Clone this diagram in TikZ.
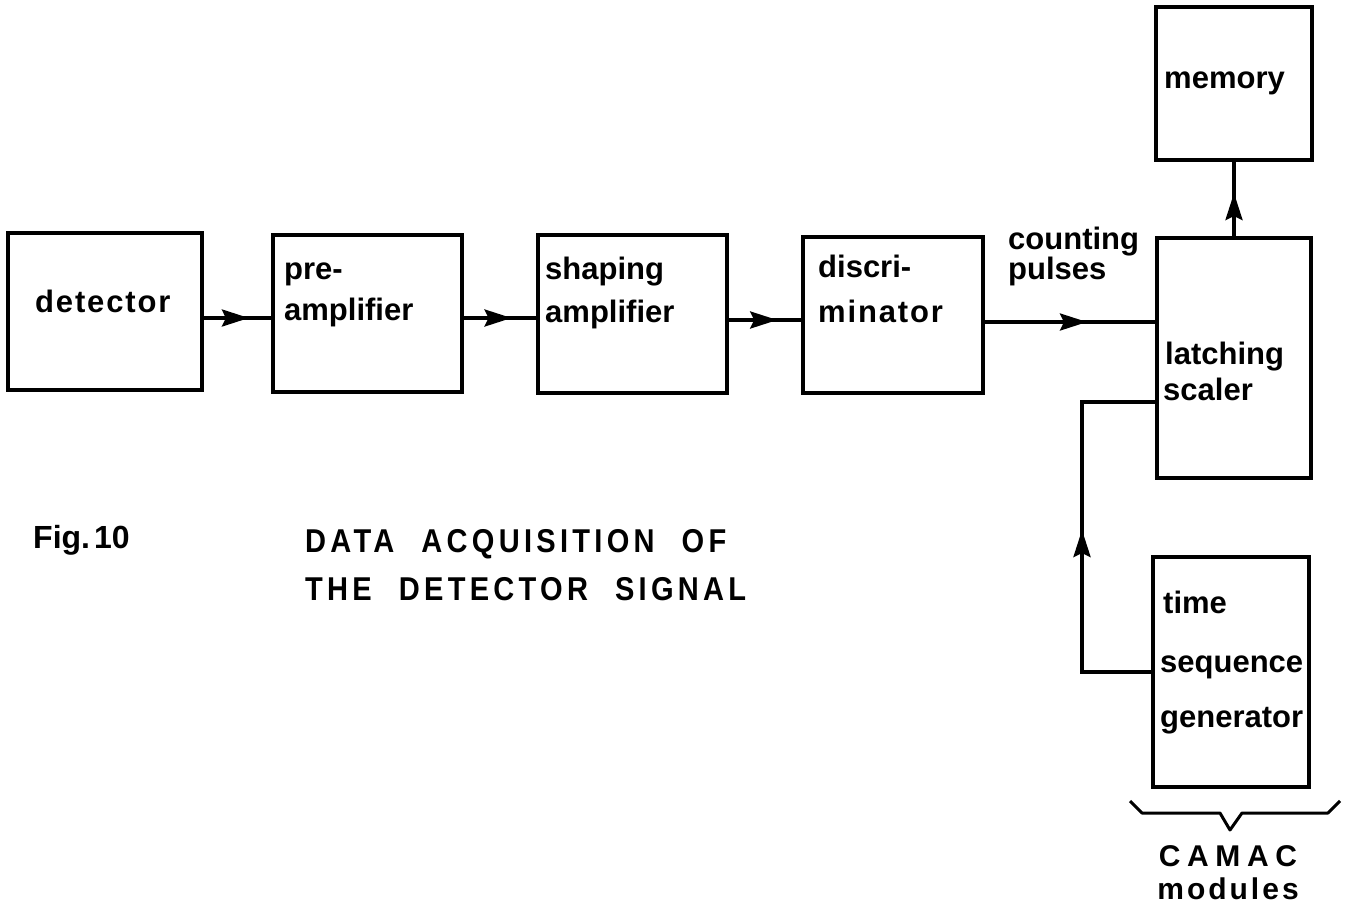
\documentclass[tikz,border=0pt]{standalone}
\usepackage{fontspec}
\setmainfont{Liberation Sans}
\newfontfamily\titlefont{Liberation Sans}[LetterSpace=13,FakeStretch=0.88]
\newfontfamily\camacfont{Liberation Sans}[LetterSpace=22]
\newfontfamily\modfont{Liberation Sans}[LetterSpace=10]
\newfontfamily\wideLbl{Liberation Sans}[LetterSpace=6]
\usetikzlibrary{arrows.meta,decorations.markings}
\tikzset{
  box/.style={draw, line width=4pt, inner sep=0pt, rectangle},
  lbl/.style={anchor=base west, inner sep=0pt, font=\fontsize{31}{37}\selectfont\bfseries},
  ttl/.style={anchor=base west, inner sep=0pt, font=\fontsize{33}{40}\selectfont\titlefont\bfseries},
  conn/.style={line width=3.5pt},
  midarrow/.style={postaction={decorate}, decoration={markings,
     mark=at position #1 with {\arrow{Stealth[length=27pt,width=17pt,inset=4pt]}}}}
}
\begin{document}
\begin{tikzpicture}[x=1pt,y=-1pt]
\useasboundingbox (0,0) rectangle (1350,914);
% boxes
\node[box, minimum width=194pt, minimum height=157pt] (det) at (105,311.5) {};
\node[box, minimum width=189pt, minimum height=157pt] (pre) at (367.5,313.5) {};
\node[box, minimum width=189pt, minimum height=158pt] (shp) at (632.5,314) {};
\node[box, minimum width=180pt, minimum height=156pt] (dis) at (893,315) {};
\node[box, minimum width=156pt, minimum height=153pt] (mem) at (1234,83.5) {};
\node[box, minimum width=154pt, minimum height=240pt] (lat) at (1234,358) {};
\node[box, minimum width=156pt, minimum height=230pt] (gen) at (1231,672) {};
% labels
\node[lbl, font=\fontsize{31}{37}\selectfont\wideLbl\bfseries] (tdet) at (35,312) {detector};
\node[lbl] (tpre1) at (284,279) {pre-};
\node[lbl] (tpre2) at (284,320) {amplifier};
\node[lbl] (tshp1) at (545,279) {shaping};
\node[lbl] (tshp2) at (545,322) {amplifier};
\node[lbl] (tdis1) at (818,277) {discri-};
\node[lbl, font=\fontsize{31}{37}\selectfont\wideLbl\bfseries] (tdis2) at (818,322) {minator};
\node[lbl] (tcnt1) at (1008,249) {counting};
\node[lbl] (tcnt2) at (1008,279) {pulses};
\node[lbl] (tmem) at (1164,88) {memory};
\node[lbl] (tlat1) at (1165,364) {latching};
\node[lbl] (tlat2) at (1163,400) {scaler};
\node[lbl] (tgen1) at (1163,613) {time};
\node[lbl] (tgen2) at (1160,672) {sequence};
\node[lbl] (tgen3) at (1160,727) {generator};
% connectors
\draw[conn, midarrow=0.67] (det.east |- 0,318) -- (pre.west |- 0,318);
\draw[conn, midarrow=0.66] (pre.east |- 0,318) -- (shp.west |- 0,318);
\draw[conn, midarrow=0.67] (shp.east |- 0,320) -- (dis.west |- 0,320);
\draw[conn, midarrow=0.60] (dis.east |- 0,322) -- (lat.west |- 0,322);
\draw[conn, midarrow=0.58] (lat.north) -- (mem.south);
\coordinate (fb1) at (1082,672);
\coordinate (fb2) at (1082,402);
\draw[conn, midarrow=211pt] (gen.west |- fb1) -- (fb1) -- (fb2) -- (lat.west |- fb2);
% brace
\coordinate (br1) at (1130,801);
\coordinate (br2) at (1340,801);
\draw[line width=3pt, line join=round] (br1) -- (1142,813) -- (1220,813) -- (1230,830) -- (1242,813) -- (1328,813) -- (br2);
\node[anchor=base, inner sep=0pt, font=\fontsize{30}{36}\selectfont\camacfont\bfseries] (camac) at (1228,866) {CAMAC};
\node[anchor=base, inner sep=0pt, font=\fontsize{30}{36}\selectfont\modfont\bfseries] (mods) at (1228,899) {modules};
% captions
\node[anchor=base west, inner sep=0pt, font=\fontsize{32}{38}\selectfont\bfseries] (fig) at (33,548) {Fig.\hspace{4pt}10};
\node[ttl] (t1) at (305,552) {DATA\hspace{27pt}ACQUISITION\hspace{27pt}OF};
\node[ttl] (t2) at (305,600) {THE\hspace{27pt}DETECTOR\hspace{27pt}SIGNAL};
\end{tikzpicture}
\end{document}
